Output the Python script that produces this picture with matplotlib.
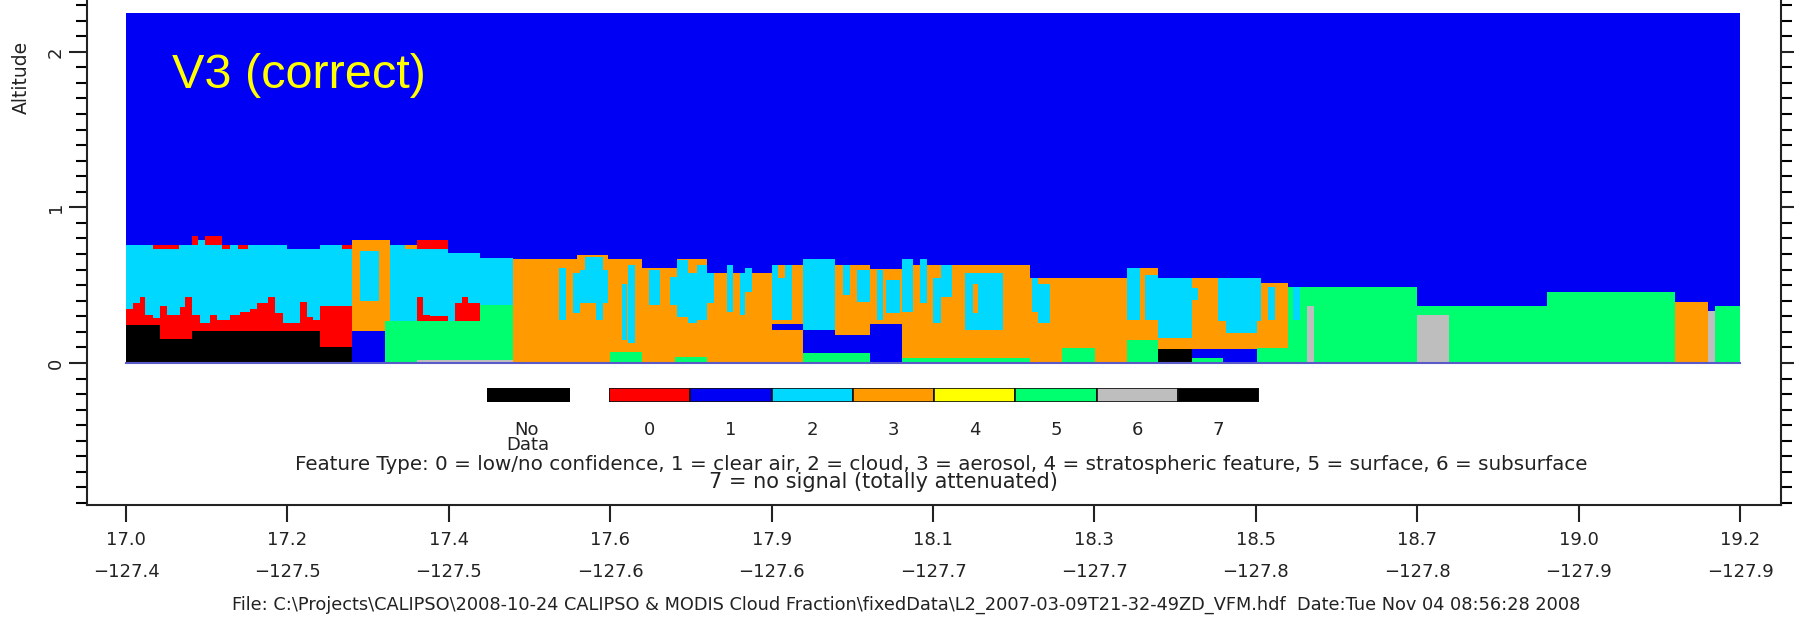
import numpy as np
import matplotlib.pyplot as plt
from matplotlib.ticker import MultipleLocator

W, H = 1794, 622

def fx(x):
    return x / W

def fy(y):
    return 1 - y / H

# feature type colours, index = feature type 0..7
type_colors = ['#ff0000', '#0000f5', '#00d8ff', '#ff9b00',
               '#ffff00', '#00ff6e', '#bebebe', '#000000']

n_profiles = 400
top_alt = 2.25

lat_labels = ['17.0', '17.2', '17.4', '17.6', '17.9', '18.1',
              '18.3', '18.5', '18.7', '19.0', '19.2']
lon_labels = ['\u2212127.4', '\u2212127.5', '\u2212127.5', '\u2212127.6',
              '\u2212127.6', '\u2212127.7', '\u2212127.7', '\u2212127.8',
              '\u2212127.8', '\u2212127.9', '\u2212127.9']

# left block: low confidence layer above the no-signal layer (step profiles)
lowconf_edges = [0, 1.8, 3.5, 4.7, 6.8, 8.4, 10.1, 13.4, 14.6, 16.3, 18.3, 20.8,
                 22.5, 25.8, 28.3, 30.7, 32.4, 35.3, 36.9, 39, 43.1, 44.8, 46.4,
                 48.1, 56.1]
lowconf_top = [0.35, 0.384, 0.422, 0.309, 0.287, 0.367, 0.309, 0.358, 0.422,
               0.309, 0.26, 0.309, 0.277, 0.309, 0.33, 0.35, 0.384, 0.427,
               0.32, 0.26, 0.394, 0.298, 0.277, 0.367]

# (profile start, profile end, bottom km, top km)
aerosol = [
    (56.1, 65.5, 0.206, 0.79), (65.5, 72.1, 0.27, 0.394), (69.2, 72.1, 0.73, 0.76),
    (96.0, 111.7, 0, 0.667), (111.7, 119.5, 0, 0.695), (119.5, 127.8, 0, 0.667),
    (127.8, 136.5, 0, 0.609), (136.5, 143.9, 0, 0.667), (143.9, 160, 0, 0.577),
    (160, 167.8, 0, 0.63), (175.7, 184.4, 0, 0.63), (184.4, 192.2, 0, 0.602),
    (192.2, 224, 0, 0.63), (224, 248, 0, 0.545), (248, 255.8, 0, 0.609),
    (255.8, 264.1, 0.088, 0.159), (264.1, 271.9, 0, 0.545), (271.9, 288.1, 0, 0.512),
    (383.9, 392.1, 0, 0.394),
]
cloud = [
    (0, 39.8, 0, 0.76), (39.8, 48.1, 0, 0.73), (48.1, 56.1, 0, 0.76),
    (17.9, 19.6, 0.76, 0.79), (58, 62.6, 0.40, 0.722), (65.5, 69.2, 0.27, 0.76),
    (69.2, 72.1, 0.27, 0.73), (72.1, 79.9, 0, 0.73), (79.9, 87.7, 0, 0.705),
    (87.7, 96.0, 0, 0.673),
    (107.4, 109, 0.277, 0.609), (110.9, 112.5, 0.32, 0.577), (112.5, 119.5, 0.384, 0.60),
    (113.7, 118.3, 0.384, 0.684), (116.6, 118.3, 0.277, 0.40), (122.8, 124.1, 0.148, 0.51),
    (124.5, 126.1, 0.126, 0.63), (129.5, 132.3, 0.373, 0.598), (134.8, 136.5, 0.373, 0.555),
    (136.5, 139.4, 0.298, 0.662), (139.4, 141.4, 0.255, 0.577), (141.4, 143.9, 0.277, 0.63),
    (143.9, 145.6, 0.384, 0.577), (148.9, 150.5, 0.33, 0.63), (152.2, 153.4, 0.309, 0.577),
    (153.4, 155.1, 0.459, 0.609), (160, 161.6, 0.277, 0.63), (161.6, 163.3, 0.277, 0.545),
    (163.3, 165, 0.277, 0.63), (167.8, 175.7, 0.212, 0.667), (177.8, 179.4, 0.437, 0.63),
    (181.1, 184.4, 0.394, 0.598), (186, 187.6, 0.277, 0.598), (188.4, 191.8, 0.32, 0.534),
    (192.2, 195.1, 0.33, 0.667), (196.8, 198.4, 0.384, 0.667), (200.1, 202.1, 0.255, 0.545),
    (202.1, 204.6, 0.427, 0.63), (207.9, 210, 0.212, 0.577), (210, 211.2, 0.212, 0.32),
    (210, 211.2, 0.51, 0.577), (211.2, 217.4, 0.212, 0.577), (224.5, 226.1, 0.33, 0.545),
    (226.1, 229, 0.255, 0.51), (248, 251.3, 0.277, 0.609), (252.5, 255.8, 0.277, 0.566),
    (255.8, 264.1, 0.159, 0.545), (264.1, 265.7, 0.405, 0.48), (270.7, 281.4, 0.27, 0.545),
    (272.7, 280.2, 0.19, 0.30), (283.1, 284.8, 0.277, 0.49), (289.3, 291, 0.277, 0.49),
]
low_conf = [
    (6.8, 13.2, 0.73, 0.76), (16.3, 17.9, 0.76, 0.817), (19.6, 23.7, 0.76, 0.817),
    (23.7, 25.8, 0.73, 0.76), (27.8, 30.3, 0.73, 0.76), (53.5, 56.1, 0.73, 0.76),
    (72.1, 79.9, 0.73, 0.79), (72.1, 73.7, 0.27, 0.427), (73.7, 75.4, 0.27, 0.309),
    (75.4, 79.9, 0.27, 0.30), (81.5, 87.7, 0.255, 0.384), (83.2, 84.8, 0.255, 0.427),
]
surface = [
    (64.2, 96.0, 0, 0.27), (87.7, 96.0, 0, 0.373), (119.9, 127.8, 0, 0.073),
    (136.0, 143.9, 0, 0.036), (167.8, 184.4, 0, 0.062), (192.2, 224, 0, 0.03),
    (231.9, 240.1, 0, 0.099), (248, 255.8, 0, 0.148), (264.1, 271.9, 0, 0.03),
    (280.2, 288.1, 0, 0.094), (288.1, 289.3, 0, 0.49), (289.3, 291, 0, 0.277),
    (291, 320, 0, 0.49), (320, 352.1, 0, 0.369), (352.1, 383.9, 0, 0.454),
    (393.8, 400, 0, 0.369),
]
subsurface = [
    (72.1, 96.0, 0, 0.022), (292.8, 294.3, 0, 0.367), (320, 327.9, 0, 0.309),
    (392.1, 393.8, 0, 0.334),
]
no_signal = [
    (0, 8.4, 0, 0.244), (8.4, 16.3, 0, 0.152), (16.3, 48.1, 0, 0.206),
    (48.1, 56.1, 0, 0.105), (255.8, 264.1, 0, 0.088),
]
clear_air = [
    (56.1, 64.2, 0, 0.206), (160, 167.8, 0.212, 0.249), (167.8, 175.7, 0.062, 0.212),
    (175.7, 184.4, 0.062, 0.18), (184.4, 192.2, 0, 0.249), (264.1, 271.9, 0.03, 0.088),
    (271.9, 280.2, 0, 0.088),
]

fig = plt.figure(figsize=(W / 100, H / 100), dpi=100)

# axes frame: left spine at x=87px, right at 1781px, bottom at 505px, top off-figure
ax = fig.add_axes([fx(87), fy(505), fx(1781) - fx(87), fy(-26) - fy(505)])
ax.set_xlim(-9.67, 410.16)
ax.set_ylim(-0.913, 2.5)


def paint(rects, code):
    r = np.array(rects, dtype=float)
    ax.bar(r[:, 0], r[:, 3] - r[:, 2], width=r[:, 1] - r[:, 0], bottom=r[:, 2],
           align='edge', color=type_colors[code], linewidth=0, antialiased=False)


# clear air everywhere first
ax.bar(0, top_alt, width=n_profiles, bottom=0, align='edge',
       color=type_colors[1], linewidth=0, antialiased=False)
paint(aerosol, 3)
paint(cloud, 2)
e = np.array(lowconf_edges)
ax.bar(e[:-1], lowconf_top, width=np.diff(e), align='edge',
       color=type_colors[0], linewidth=0, antialiased=False)
paint(low_conf, 0)
paint(surface, 5)
paint(subsurface, 6)
paint(no_signal, 7)
paint(clear_air, 1)
ax.plot([0, n_profiles], [0, 0], color='#5a5ac8', lw=1.5)

# ticks
ax.set_xticks(np.arange(0, n_profiles + 1, 40))
ax.set_xticklabels([a + '\n' + b for a, b in zip(lat_labels, lon_labels)],
                   linespacing=1.95)
ax.set_yticks([0, 1, 2])
ax.set_yticklabels(['0', '1', '2'], rotation=90, va='center')
ax.yaxis.set_minor_locator(MultipleLocator(0.1))
ax.tick_params(axis='x', direction='out', length=12, width=1.5, pad=7,
               labelsize=13, colors='#222222')
ax.tick_params(axis='y', which='major', left=True, right=True, direction='out',
               length=13, width=1.5, pad=3, labelsize=13, colors='#222222')
ax.tick_params(axis='y', which='minor', left=True, right=True, direction='out',
               length=8, width=1.5)
for s in ax.spines.values():
    s.set_linewidth(1.5)
    s.set_color('#222222')

fig.text(fx(21), fy(77), 'Altitude', rotation=90, ha='center', va='center',
         fontsize=13.5, color='#222222')
fig.text(fx(172), fy(88), 'V3 (correct)', fontsize=35, color='#ffff00',
         family='Liberation Sans', ha='left', va='baseline')

# feature type key
ax_nd = fig.add_axes([fx(487), fy(402), fx(570) - fx(487), fy(388) - fy(402)])
ax_nd.bar([0], [1], width=1, align='edge', color='black', linewidth=0)
ax_nd.set_xlim(0, 1)
ax_nd.set_ylim(0, 1)
ax_nd.axis('off')

ax_key = fig.add_axes([fx(609), fy(402), fx(1259) - fx(609), fy(388) - fy(402)])
codes = np.arange(8)
ax_key.bar(codes, np.ones(8), width=1, align='edge', color=type_colors,
           edgecolor='#111111', linewidth=1.2)
ax_key.set_xlim(0, 8)
ax_key.set_ylim(0, 1)
ax_key.axis('off')
for c in codes:
    fig.text(fx(609 + (c + 0.5) * 650 / 8), fy(430), str(c), ha='center',
             va='center', fontsize=13, color='#222222')
fig.text(fx(526), fy(430), 'No', ha='center', va='center', fontsize=13, color='#222222')
fig.text(fx(528), fy(445), 'Data', ha='center', va='center', fontsize=13, color='#222222')

fig.text(fx(941), fy(465),
         'Feature Type: 0 = low/no confidence, 1 = clear air, 2 = cloud, 3 = aerosol, '
         '4 = stratospheric feature, 5 = surface, 6 = subsurface',
         ha='center', va='center', fontsize=14.3, color='#222222')
fig.text(fx(883), fy(482), '7 = no signal (totally attenuated)',
         ha='center', va='center', fontsize=15, color='#222222')
fig.text(fx(906), fy(605),
         'File: C:\\Projects\\CALIPSO\\2008-10-24 CALIPSO & MODIS Cloud Fraction\\fixedData'
         '\\L2_2007-03-09T21-32-49ZD_VFM.hdf  Date:Tue Nov 04 08:56:28 2008',
         ha='center', va='center', fontsize=12.8, color='#222222')

fig.savefig('out.png', dpi=100)
